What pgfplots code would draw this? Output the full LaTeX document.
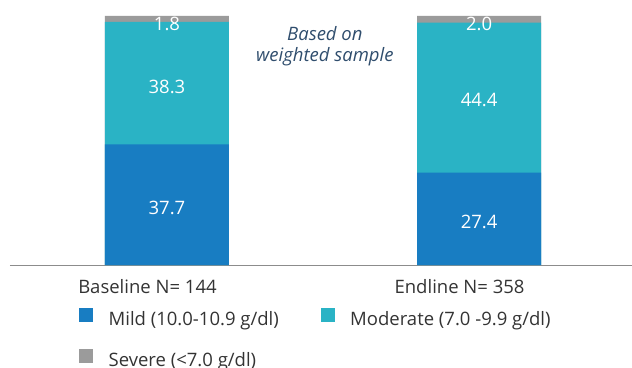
\documentclass[border=0pt]{standalone}
\usepackage{pgfplots}
\pgfplotsset{compat=1.18}
\usepackage{fontspec}
\setmainfont{Open Sans}
\definecolor{mildc}{HTML}{187DC2}
\definecolor{modc}{HTML}{2AB3C5}
\definecolor{sevc}{HTML}{9B9B9B}
\definecolor{txtc}{HTML}{333333}
\definecolor{notec}{HTML}{2F4D6D}
\definecolor{axc}{HTML}{8C8C8C}
% shares of each bar (values normalised so that each bar is 100)
% Baseline: 37.7 / 38.3 / 1.8 ; Endline: 27.4 / 44.4 / 2.0
\begin{document}
\begin{tikzpicture}
\useasboundingbox (0,0) rectangle (632pt,367pt);
\begin{axis}[
  at={(10pt,102pt)}, anchor=south west,
  scale only axis, width=622pt, height=249pt,
  xmin=-0.503, xmax=1.49, ymin=0, ymax=100,
  axis x line*=bottom, hide y axis,
  x axis line style={draw=axc, line width=0.9pt, -},
  xtick={-0.0625,0.9375}, xticklabels={Baseline N= 144, Endline N= 358},
  major tick length=0pt,
  xticklabel style={font=\fontsize{18.5}{22}\selectfont, text=txtc, yshift=-11pt},
  clip=false,
  legend columns=2,
  legend style={at={(0.111,-0.173)}, anchor=north west, draw=none, fill=none,
    font=\fontsize{18.5}{22}\selectfont, text=txtc, inner sep=0pt, row sep=22pt,
    nodes={inner sep=0pt},
    /tikz/every odd column/.append style={column sep=16pt},
    /tikz/every even column/.append style={column sep=42pt}},
  legend cell align=left,
]
\addlegendimage{legend image code/.code={\fill[mildc] (0pt,-2pt) rectangle (13pt,11pt);}}
\addlegendentry{Mild (10.0-10.9 g/dl)}
\addlegendimage{legend image code/.code={\fill[modc] (0pt,-2pt) rectangle (13pt,11pt);}}
\addlegendentry{Moderate (7.0 -9.9 g/dl)}
\addlegendimage{legend image code/.code={\fill[sevc] (0pt,-2pt) rectangle (13pt,11pt);}}
\addlegendentry{Severe (<7.0 g/dl)}
% severe (top of stack = 100)
\addplot[ybar, bar width=124pt, bar shift=0pt, fill=sevc, draw=none, forget plot]
  coordinates {(0,100) (1,100)};
% moderate (cumulative mild + moderate)
\addplot[ybar, bar width=124pt, bar shift=0pt, fill=modc, draw=none, forget plot]
  coordinates {(0,97.69) (1,97.29)};
% mild
\addplot[ybar, bar width=124pt, bar shift=0pt, fill=mildc, draw=none, forget plot]
  coordinates {(0,48.46) (1,37.13)};
% value labels
\addplot[draw=none, mark=none, forget plot, point meta=explicit symbolic,
  nodes near coords, nodes near coords style={anchor=center, text=white, font=\fontsize{18.5}{22}\selectfont}]
  coordinates {(0,22.9) [37.7] (0,71.7) [38.3] (0,97.0) [1.8]
               (1,17.3) [27.4] (1,66.3) [44.4] (1,97.0) [2.0]};
\node[align=center, text=notec, font=\fontsize{18.5}{21}\selectfont\itshape] at (axis cs:0.506,88.0) {Based on\\weighted sample};
\end{axis}
\end{tikzpicture}
\end{document}
